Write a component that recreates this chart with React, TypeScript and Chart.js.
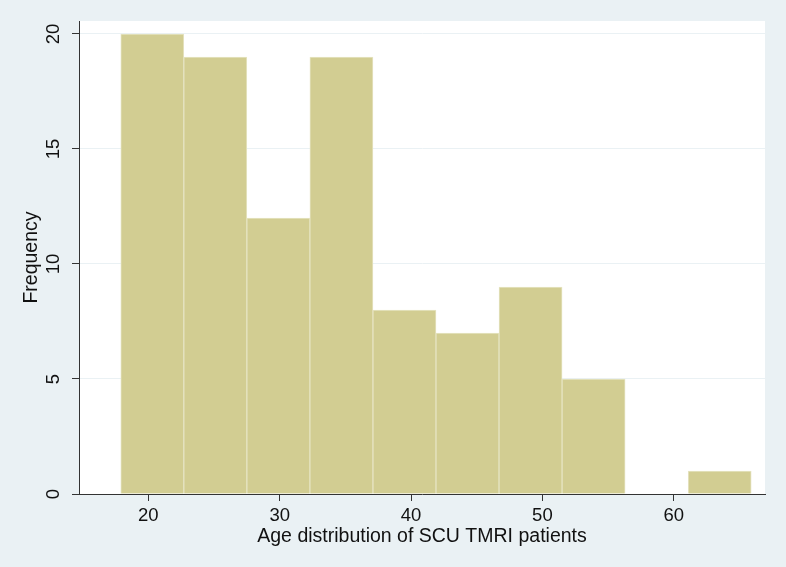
import React, { useEffect, useRef } from "react";
import { Chart, registerables } from "chart.js";
Chart.register(...registerables);

// Histogram bins (centres of 4.8-year-wide bins) and counts
const binCenters = [20.3, 25.1, 29.9, 34.7, 39.5, 44.3, 49.1, 53.9, 58.7, 63.5];
const frequencies = [20, 19, 12, 19, 8, 7, 9, 5, 0, 1];
const xTickValues = [20, 30, 40, 50, 60];
const yTickValues = [0, 5, 10, 15, 20];
const xTitle = "Age distribution of SCU TMRI patients";
const yTitle = "Frequency";

const FONT = '"Liberation Sans", Arial, Helvetica, sans-serif';
const PAGE_BG = "#eaf1f4";

const plotBg = {
  id: "plotBg",
  beforeDraw(chart: any) {
    const { ctx, chartArea: a } = chart;
    ctx.save();
    ctx.fillStyle = "#ffffff";
    ctx.fillRect(a.left, a.top, a.right - a.left, a.bottom - a.top);
    ctx.restore();
  },
};

export default function App() {
  const ref = useRef<HTMLCanvasElement | null>(null);
  useEffect(() => {
    if (!ref.current) return;
    const chart = new Chart(ref.current, {
      type: "bar",
      data: {
        datasets: [
          {
            data: binCenters.map((x, i) => ({ x, y: frequencies[i] })),
            backgroundColor: "rgb(210,205,146)",
            borderColor: "rgb(230,228,195)",
            borderWidth: 1,
            barPercentage: 1,
            categoryPercentage: 1,
          },
        ],
      },
      options: {
        animation: false,
        responsive: false,
        devicePixelRatio: 1,
        layout: { padding: { top: 21, right: 21, left: 0, bottom: 0 } },
        plugins: {
          legend: { display: false },
          tooltip: { enabled: false },
        },
        scales: {
          x: {
            type: "linear",
            offset: false,
            min: 14.72,
            max: 66.95,
            afterBuildTicks: (s: any) => {
              s.ticks = xTickValues.map((v) => ({ value: v }));
            },
            afterFit: (s: any) => {
              s.height = 73;
            },
            ticks: {
              font: { family: FONT, size: 18.5 },
              color: "#111",
              padding: 4,
              maxRotation: 0,
              autoSkip: false,
            },
            grid: {
              offset: false,
              drawOnChartArea: false,
              drawTicks: true,
              tickLength: 7,
              tickColor: "#333",
            },
            border: { display: true, color: "#333", width: 1 },
            title: {
              display: true,
              text: xTitle,
              font: { family: FONT, size: 19.5 },
              color: "#111",
              padding: { top: 0, bottom: 19 },
            },
          },
          y: {
            type: "linear",
            min: 0,
            max: 20.565,
            afterBuildTicks: (s: any) => {
              s.ticks = yTickValues.map((v) => ({ value: v }));
            },
            afterFit: (s: any) => {
              s.width = 79;
            },
            ticks: {
              font: { family: FONT, size: 18.5 },
              color: "#111",
              padding: 8,
              minRotation: 90,
              maxRotation: 90,
              crossAlign: "center",
              autoSkip: false,
            },
            grid: {
              color: "#eaf1f4",
              drawTicks: true,
              tickLength: 7,
              tickColor: "#333",
            },
            border: { display: true, color: "#333", width: 1 },
            title: {
              display: true,
              text: yTitle,
              font: { family: FONT, size: 19.5 },
              color: "#111",
              padding: { top: 20, bottom: 0 },
            },
          },
        },
      },
      plugins: [plotBg],
    } as any);
    return () => chart.destroy();
  }, []);

  return (
    <div
      style={{
        position: "absolute",
        left: 0,
        top: 0,
        width: 786,
        height: 567,
        background: PAGE_BG,
      }}
    >
      <canvas ref={ref} width={786} height={567} style={{ display: "block" }} />
    </div>
  );
}
